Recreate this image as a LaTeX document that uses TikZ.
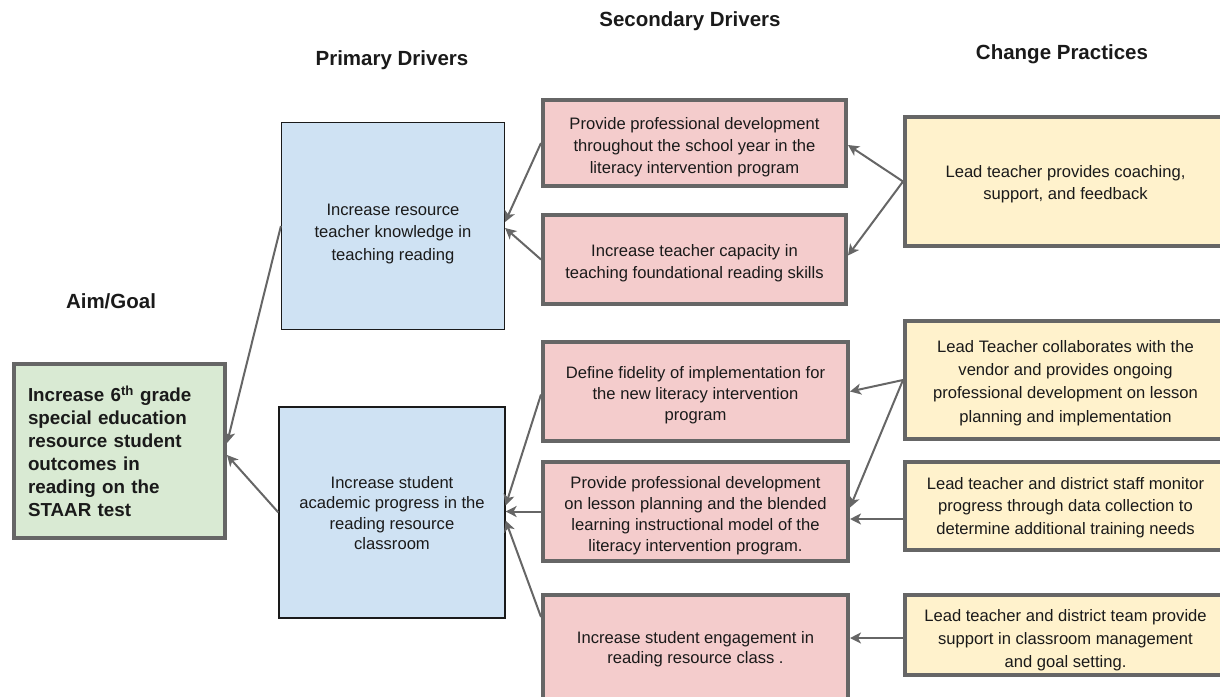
\documentclass[tikz,border=0pt]{standalone}
\usepackage{fontspec}
\setmainfont{Liberation Sans}
\usetikzlibrary{arrows.meta}
\definecolor{goalfill}{HTML}{D9EAD3}
\definecolor{primfill}{HTML}{CFE2F3}
\definecolor{secfill}{HTML}{F4CCCC}
\definecolor{chgfill}{HTML}{FFF2CC}
\definecolor{edge}{HTML}{666666}
\definecolor{ink}{HTML}{1A1A1A}
% centred block of lines; extra room on top lowers it by #1 in its box
\newcommand\celltext[2]{\raisebox{0pt}[\dimexpr\height+#1+#1\relax][\depth]{\begin{tabular}{@{}c@{}}#2\end{tabular}}}
\begin{document}
\begin{tikzpicture}[x=1pt,y=-1pt,
  heading/.style={font=\fontsize{20.5}{24}\selectfont\bfseries, text=ink},
  body/.style={font=\fontsize{16.6}{22}\selectfont, text=ink},
  thickbox/.style={draw=edge, line width=4pt, inner sep=0pt},
  goalbox/.style={thickbox, fill=goalfill},
  primbox/.style={draw=ink, line width=1.2pt, fill=primfill, inner sep=0pt, body},
  secbox/.style={thickbox, fill=secfill, body},
  chgbox/.style={thickbox, fill=chgfill, body},
  arr/.style={draw=edge, line width=2pt, -{Stealth[length=11pt,width=11pt,inset=3pt]}}]
\useasboundingbox (0,0) rectangle (1220,696);

% column headings
\node[heading] (hsec) at (690,21) {Secondary Drivers};
\node[heading] (hprim) at (392,60) {Primary Drivers};
\node[heading] (hchg) at (1062,54) {Change Practices};
\node[heading] (haim) at (111,301) {Aim/Goal};

% aim
\node[goalbox, minimum width=211pt, minimum height=174pt,
      text width=183pt, align=left,
      font=\fontsize{18.8}{23}\selectfont\bfseries, text=ink] (goal) at (119.5,451)
  {Increase 6\textsuperscript{th} grade\\special education\\resource student\\outcomes in\\reading on the\\STAAR test};

% primary drivers
\node[primbox, minimum width=223pt, minimum height=207pt, font=\fontsize{16.6}{22.5}\selectfont] (pa) at (393,226)
  {\celltext{7pt}{Increase resource\\teacher knowledge in\\teaching reading}};
\node[primbox, minimum width=226pt, minimum height=211pt, font=\fontsize{16.6}{20.3}\selectfont] (pb) at (392,512.5)
  {\celltext{2.5pt}{Increase student\\academic progress in the\\reading resource\\classroom}};

% secondary drivers
\node[secbox, minimum width=303pt, minimum height=86pt] (sa) at (694.5,143)
  {\celltext{4pt}{Provide professional development\\throughout the school year in the\\literacy intervention program}};
\node[secbox, minimum width=303pt, minimum height=89pt] (sb) at (694.5,259.5)
  {\celltext{4pt}{Increase teacher capacity in\\teaching foundational reading skills}};
\node[secbox, minimum width=305pt, minimum height=99pt, font=\fontsize{16.6}{21}\selectfont] (sc) at (695.5,391.5)
  {\celltext{3.5pt}{Define fidelity of implementation for\\the new literacy intervention\\program}};
\node[secbox, minimum width=305pt, minimum height=99pt, font=\fontsize{16.6}{20.8}\selectfont] (sd) at (695.5,511.5)
  {\celltext{4.5pt}{Provide professional development\\on lesson planning and the blended\\learning instructional model of the\\literacy intervention program.}};
\node[secbox, minimum width=305pt, minimum height=104pt, font=\fontsize{16.6}{20.5}\selectfont] (se) at (695.5,647)
  {\celltext{2.5pt}{Increase student engagement in\\reading resource class .}};

% change practices
\node[chgbox, minimum width=321pt, minimum height=129pt] (ca) at (1065.5,181.5)
  {\celltext{3pt}{Lead teacher provides coaching,\\support, and feedback}};
\node[chgbox, minimum width=321pt, minimum height=118pt, font=\fontsize{16.6}{23.3}\selectfont] (cb) at (1065.5,380)
  {\celltext{2.5pt}{Lead Teacher collaborates with the\\vendor and provides ongoing\\professional development on lesson\\planning and implementation}};
\node[chgbox, minimum width=321pt, minimum height=88pt, font=\fontsize{16.6}{22.5}\selectfont] (cc) at (1065.5,506)
  {\celltext{1pt}{Lead teacher and district staff monitor\\progress through data collection to\\determine additional training needs}};
\node[chgbox, minimum width=321pt, minimum height=80pt, font=\fontsize{16.6}{23}\selectfont] (cd) at (1065.5,635)
  {\celltext{5pt}{Lead teacher and district team provide\\support in classroom management\\and goal setting.}};

% primary -> aim
\draw[arr] (pa.west) -- ([yshift=8pt]goal.east);
\draw[arr] (pb.west) -- ([yshift=-4pt]goal.east);

% secondary -> primary
\draw[arr] (sa.west) -- ([yshift=4pt]pa.east);
\draw[arr] (sb.west) -- ([yshift=-2pt]pa.east);
\draw[arr] ([yshift=-3pt]sc.west) -- ([yshift=7pt]pb.east);
\draw[arr] (sd.west) -- (sd.west -| pb.east);
\draw[arr] ([yshift=30pt]se.west) -- ([yshift=-8pt]pb.east);

% change practices -> secondary
\draw[arr] (ca.west) -- ([yshift=-2pt]sa.east);
\draw[arr] (ca.west) -- ([yshift=4pt]sb.east);
\draw[arr] (cb.west) -- (sc.east);
\draw[arr] (cb.west) -- ([yshift=4pt]sd.east);
\draw[arr] ([yshift=-13pt]cc.west) -- ([yshift=-13pt]cc.west -| sd.east);
\draw[arr] ([yshift=-3pt]cd.west) -- ([yshift=-3pt]cd.west -| se.east);
\end{tikzpicture}
\end{document}
